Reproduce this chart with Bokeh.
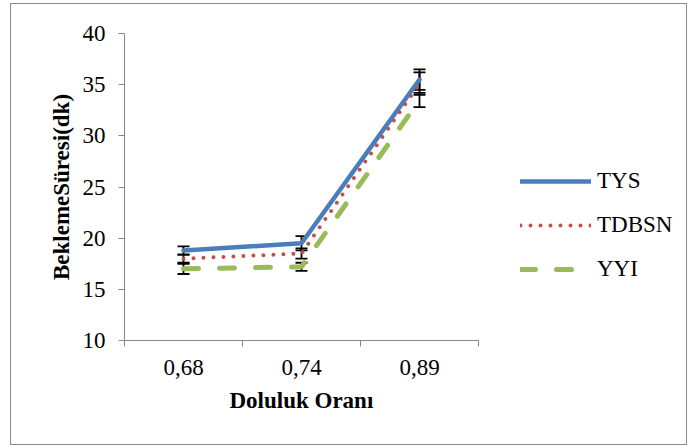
from bokeh.plotting import figure
from bokeh.models import (FixedTicker, Whisker, ColumnDataSource, Legend, LegendItem,
                          Range1d, TeeHead, Title)
from bokeh.embed import file_html
from bokeh.resources import INLINE

# Occupancy rate categories and waiting times (minutes) with error margins
categories = ["0,68", "0,74", "0,89"]
tys = [18.8, 19.5, 35.5]
tys_err = [0.4, 0.7, 1.0]
tdbsn = [18.0, 18.5, 35.1]
tdbsn_err = [0.4, 0.5, 1.1]
yyi = [17.0, 17.2, 33.5]
yyi_err = [0.5, 0.4, 0.7]
y_ticks = [10, 15, 20, 25, 30, 35, 40]

FONT = "Liberation Serif"
AXIS_GREY = "#868686"

xs = [i + 0.5 for i in range(len(categories))]
n = len(categories)

# the plotting frame runs on to the right so the legend sits inside it;
# the x axis itself is bounded to the category span (354 px of 554 px)
axis_px, frame_px = 354, 554
x_end = n * frame_px / axis_px

p = figure(width=677, height=442, output_backend="svg", toolbar_location=None,
           x_range=Range1d(0, x_end), y_range=Range1d(10, 40),
           min_border_left=113, min_border_right=10, min_border_top=29, min_border_bottom=106)
p.margin = (3, 0, 0, 10)
p.styles = {"border": "1px solid #8c8c8c"}
p.outline_line_color = None
p.grid.visible = False
p.background_fill_color = "white"
p.border_fill_color = "white"

# x axis: labels at category centres, tick marks at category boundaries
xa = p.xaxis[0]
xa.bounds = (0, n)
xa.ticker = FixedTicker(ticks=xs, minor_ticks=list(range(n + 1)))
xa.major_label_overrides = {x: c for x, c in zip(xs, categories)}
xa.major_tick_out = 0
xa.major_tick_in = 0
xa.minor_tick_out = 6
xa.minor_tick_in = 0
xa.minor_tick_line_color = AXIS_GREY
xa.axis_line_color = AXIS_GREY
xa.major_label_text_font = FONT
xa.major_label_text_font_size = "23px"
xa.major_label_text_color = "black"
xa.major_label_standoff = 13

# x axis title, placed under the category span rather than the whole frame
p.add_layout(Title(text="Doluluk Oranı", align="left", offset=105, standoff=16,
                   text_font=FONT, text_font_style="bold", text_font_size="23px",
                   text_color="black"), "below")

ya = p.yaxis[0]
ya.ticker = FixedTicker(ticks=y_ticks)
ya.major_tick_out = 6
ya.major_tick_in = 0
ya.minor_tick_out = 0
ya.minor_tick_in = 0
ya.major_tick_line_color = AXIS_GREY
ya.axis_line_color = AXIS_GREY
ya.major_label_text_font = FONT
ya.major_label_text_font_size = "23px"
ya.major_label_text_color = "black"
ya.major_label_standoff = 13
ya.axis_label = "BeklemeSüresi(dk)"
ya.axis_label_text_font = FONT
ya.axis_label_text_font_style = "bold"
ya.axis_label_text_font_size = "23px"
ya.axis_label_text_color = "black"
ya.axis_label_standoff = 6

series = [
    ("TYS", tys, tys_err, dict(line_color="#4A7EBB", line_width=4.5, line_cap="round")),
    ("TDBSN", tdbsn, tdbsn_err, dict(line_color="#C0504D", line_width=4, line_dash="0 10",
                                    line_cap="round")),
    ("YYI", yyi, yyi_err, dict(line_color="#9BBB59", line_width=5, line_dash="15 21",
                               line_cap="round")),
]

items = []
for name, vals, errs, style in series:
    src = ColumnDataSource(dict(x=xs, y=vals,
                                lo=[v - e for v, e in zip(vals, errs)],
                                hi=[v + e for v, e in zip(vals, errs)]))
    r = p.line("x", "y", source=src, **style)
    items.append(LegendItem(label=name, renderers=[r]))
    w = Whisker(base="x", lower="lo", upper="hi", source=src, dimension="height",
                line_color="black", line_width=1.8,
                upper_head=TeeHead(size=12, line_color="black", line_width=1.8),
                lower_head=TeeHead(size=12, line_color="black", line_width=1.8))
    p.add_layout(w)

legend = Legend(items=items, location=(396, 58), border_line_color=None,
                background_fill_alpha=0, padding=0, margin=0, spacing=18,
                glyph_width=71, glyph_height=24, label_height=24, label_standoff=6,
                label_text_font=FONT, label_text_font_size="23px", label_text_color="black")
p.add_layout(legend)

open("out.html", "w").write(file_html(p, INLINE))
